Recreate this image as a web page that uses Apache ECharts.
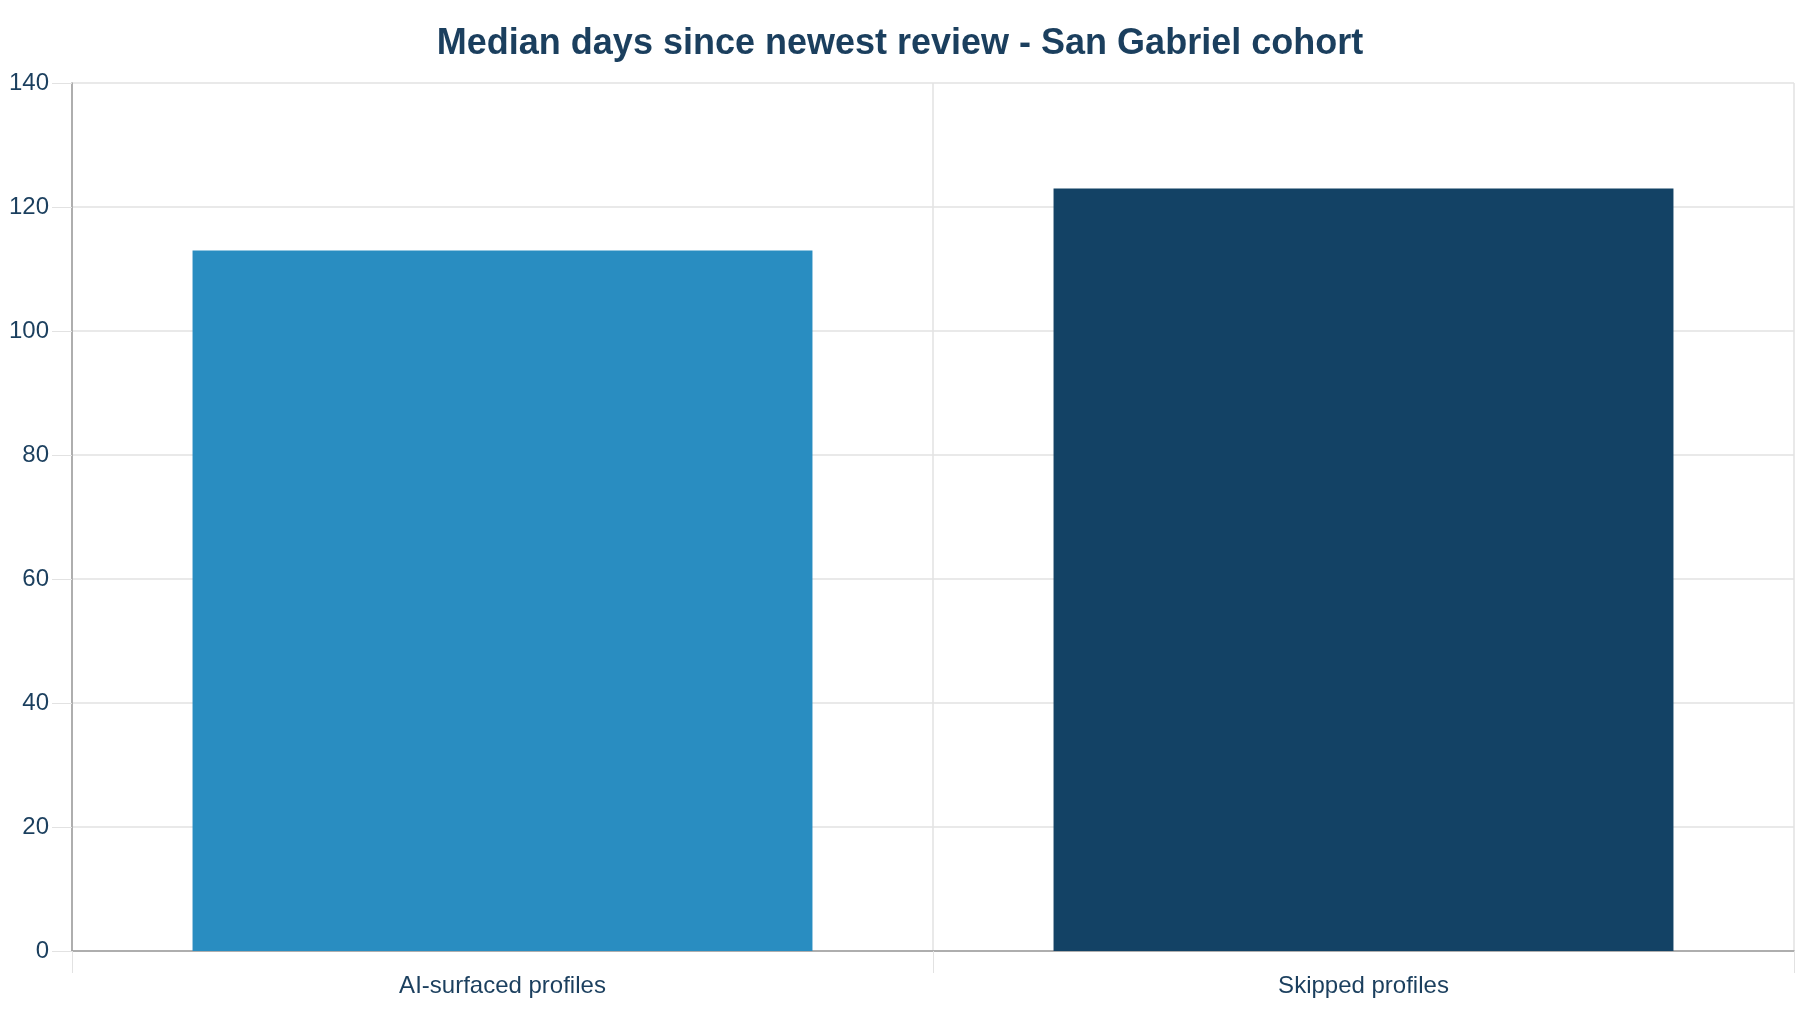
<!DOCTYPE html>
<html>
<head>
<meta charset="utf-8">
<script src="https://cdn.jsdelivr.net/npm/echarts@6/dist/echarts.min.js"></script>
<style>
  html, body { margin: 0; padding: 0; background: #fff; }
  #chart { width: 1800px; height: 1012px; }
</style>
</head>
<body>
<div id="chart"></div>
<script>
var categories = ['AI-surfaced profiles', 'Skipped profiles'];
var medianDays = [113, 123];
var barColors = ['#298dc1', '#134265'];

var textColor = '#1b3f5e';
var gridColor = '#e2e2e2';
var axisColor = '#9a9a9a';

var myChart = echarts.init(document.getElementById('chart'));

var option = {
    backgroundColor: '#ffffff',
    title: {
        text: 'Median days since newest review - San Gabriel cohort',
        left: 'center',
        top: 21,
        textStyle: {
            fontFamily: 'Liberation Sans',
            fontSize: 36,
            fontWeight: 'bold',
            color: textColor
        }
    },
    grid: {
        left: 72,
        right: 6,
        top: 83,
        bottom: 61
    },
    xAxis: {
        type: 'category',
        data: categories,
        axisLine: { lineStyle: { color: axisColor, width: 1.5 } },
        axisTick: { show: true, length: 22, lineStyle: { color: gridColor } },
        splitLine: { show: true, lineStyle: { color: gridColor, width: 1.5 } },
        axisLabel: {
            margin: 23,
            fontFamily: 'Liberation Sans',
            fontSize: 24,
            color: textColor
        }
    },
    yAxis: {
        type: 'value',
        min: 0,
        max: 140,
        interval: 20,
        axisLine: { show: true, lineStyle: { color: axisColor, width: 1.5 } },
        axisTick: { show: true, length: 20, lineStyle: { color: gridColor } },
        splitLine: { show: true, lineStyle: { color: gridColor, width: 1.5 } },
        axisLabel: {
            margin: 23,
            fontFamily: 'Liberation Sans',
            fontSize: 24,
            color: textColor
        }
    },
    series: [
        {
            type: 'bar',
            barWidth: '72%',
            data: medianDays.map(function (v, i) {
                return { value: v, itemStyle: { color: barColors[i] } };
            })
        }
    ]
};

myChart.setOption(option, true);
</script>
</body>
</html>
